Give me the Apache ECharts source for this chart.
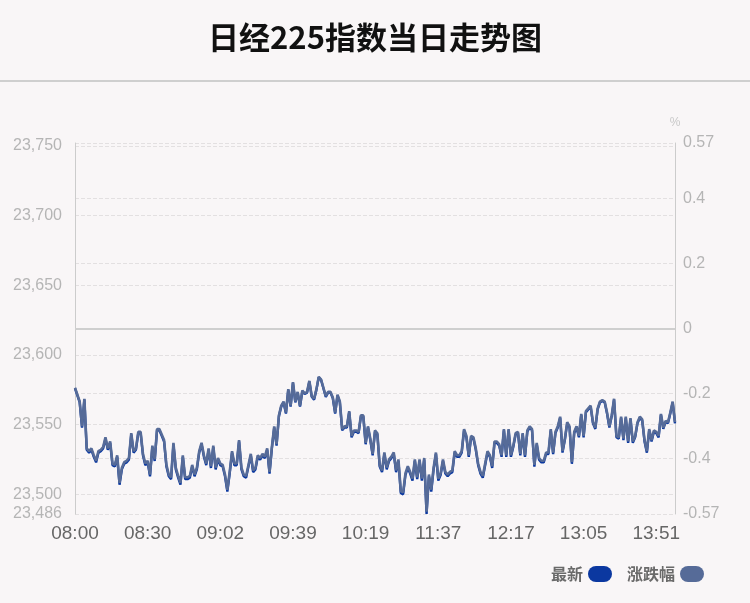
<!DOCTYPE html>
<html>
<head>
<meta charset="utf-8">
<script src="https://cdn.jsdelivr.net/npm/echarts@6/dist/echarts.min.js"></script>
<style>
html,body{margin:0;padding:0;background:#f9f6f7;}
#chart{width:750px;height:603px;}
</style>
</head>
<body>
<div id="chart"></div>
<script>
const TITLE = '日经225指数当日走势图';
const TIME_LABELS = ['08:00','08:30','09:02','09:39','10:19','11:37','12:17','13:05','13:51'];
const LABEL_STEP = 31;
const PREV_CLOSE = 23619;
const PRICE_MIN = 23486;
const PRICE_MAX = 23752;
const PCT_MIN = -0.57;
const PCT_MAX = 0.57;
const SERIES_NAMES = ['最新', '涨跌幅'];
const PRICES = [
23576,23571,23566,23548,23568,23532,23530,23532,23527,23523,
23530,23531,23533,23540,23532,23537,23521,23520,23527,23507,
23518,23522,23523,23525,23543,23530,23532,23544,23544,23528,
23521,23523,23513,23534,23524,23546,23546,23542,23538,23520,
23513,23511,23536,23518,23512,23507,23527,23511,23511,23512,
23520,23513,23518,23530,23536,23527,23521,23532,23519,23534,
23518,23525,23521,23520,23513,23502,23515,23530,23521,23521,
23538,23518,23513,23512,23520,23528,23516,23518,23527,23525,
23528,23526,23532,23515,23533,23548,23535,23556,23563,23566,
23558,23575,23563,23580,23566,23573,23563,23574,23572,23573,
23581,23570,23568,23575,23584,23582,23576,23570,23573,23573,
23569,23558,23571,23566,23546,23548,23548,23559,23541,23545,
23545,23544,23556,23556,23536,23548,23539,23528,23545,23543,
23520,23516,23529,23518,23524,23526,23529,23516,23524,23501,
23500,23514,23519,23515,23510,23524,23511,23524,23510,23525,
23486,23513,23502,23518,23529,23510,23514,23524,23515,23513,
23515,23516,23530,23527,23527,23530,23546,23541,23527,23541,
23540,23532,23521,23515,23512,23521,23530,23527,23519,23537,
23537,23535,23527,23546,23527,23546,23527,23534,23543,23544,
23528,23543,23527,23545,23548,23546,23520,23536,23525,23523,
23523,23529,23529,23546,23529,23544,23548,23555,23530,23539,
23551,23548,23522,23544,23548,23541,23557,23541,23559,23561,
23563,23551,23547,23561,23566,23567,23566,23558,23548,23556,
23568,23541,23540,23555,23539,23555,23537,23554,23537,23541,
23551,23555,23553,23538,23530,23546,23538,23545,23544,23541,
23557,23547,23552,23551,23558,23566,23551
];

const categories = PRICES.map((_, i) => String(i));
const pct = PRICES.map(p => (p - PREV_CLOSE) / PREV_CLOSE * 100);

const chart = echarts.init(document.getElementById('chart'), null, {renderer: 'canvas'});
const pill = 'path://M8,0 H16 A8,8 0 0 1 16,16 H8 A8,8 0 0 1 8,0 Z';
chart.setOption({
  backgroundColor: '#f9f6f7',
  animation: false,
  title: {
    text: TITLE,
    left: 'center',
    top: 17,
    textStyle: {fontSize: 31, fontWeight: 'bold', color: '#111', fontFamily: '"Noto Sans CJK SC", sans-serif'}
  },
  graphic: [{
    type: 'line',
    shape: {x1: 0, y1: 81, x2: 750, y2: 81},
    style: {stroke: '#cfcfcf', lineWidth: 2}
  }],
  legend: {
    data: [{name: SERIES_NAMES[0], icon: pill}, {name: SERIES_NAMES[1], icon: pill}],
    right: 41,
    top: 561,
    align: 'right',
    itemWidth: 24,
    itemHeight: 17,
    itemGap: 15,
    textStyle: {fontSize: 16, fontWeight: 'bold', color: '#6a6a6a', fontFamily: '"Noto Sans CJK SC", sans-serif'}
  },
  grid: {left: 75, right: 75, top: 143, bottom: 89, containLabel: false},
  xAxis: {
    type: 'category',
    data: categories,
    boundaryGap: false,
    axisLine: {show: false},
    axisTick: {show: false},
    splitLine: {show: false},
    axisLabel: {
      interval: LABEL_STEP - 1,
      margin: 10,
      fontSize: 19,
      color: '#666',
      fontFamily: '"Liberation Sans", Arial, sans-serif',
      formatter: (v, i) => TIME_LABELS[i / LABEL_STEP] || ''
    }
  },
  yAxis: [{
    type: 'value',
    min: PRICE_MIN,
    max: PRICE_MAX,
    position: 'left',
    axisLine: {show: true, lineStyle: {color: '#cccccc', width: 1}},
    axisTick: {show: false},
    splitLine: {show: true, lineStyle: {color: '#e3e0e1', type: 'dashed', width: 1}},
    axisLabel: {
      showMaxLabel: false,
      margin: 13,
      fontSize: 16,
      color: '#b5b5b5',
      fontFamily: '"Liberation Sans", Arial, sans-serif',
      formatter: v => Math.round(v).toLocaleString('en-US')
    }
  }, {
    type: 'value',
    min: PCT_MIN,
    max: PCT_MAX,
    position: 'right',
    name: '%',
    nameLocation: 'end',
    nameGap: 14,
    nameTextStyle: {fontSize: 12, color: '#c8c8c8', align: 'center', fontFamily: '"Liberation Sans", Arial, sans-serif'},
    axisLine: {show: true, lineStyle: {color: '#cccccc', width: 1}},
    axisTick: {show: false},
    splitLine: {show: true, lineStyle: {color: '#e3e0e1', type: 'dashed', width: 1}},
    axisLabel: {
      margin: 8,
      fontSize: 16,
      color: '#b5b5b5',
      fontFamily: '"Liberation Sans", Arial, sans-serif',
      formatter: v => String(Math.round(v * 100) / 100)
    }
  }],
  series: [{
    name: SERIES_NAMES[0],
    type: 'line',
    yAxisIndex: 0,
    data: PRICES,
    symbol: 'none',
    color: '#0b38a0',
    lineStyle: {width: 2.4, color: '#0b38a0'}
  }, {
    name: SERIES_NAMES[1],
    type: 'line',
    yAxisIndex: 1,
    data: pct,
    symbol: 'none',
    color: '#566b98',
    lineStyle: {width: 2.6, color: '#566b98'},
    markLine: {
      silent: true,
      symbol: 'none',
      label: {show: false},
      lineStyle: {color: '#cfcfcf', type: 'solid', width: 2},
      data: [{yAxis: 0}]
    }
  }]
});
</script>
</body>
</html>
